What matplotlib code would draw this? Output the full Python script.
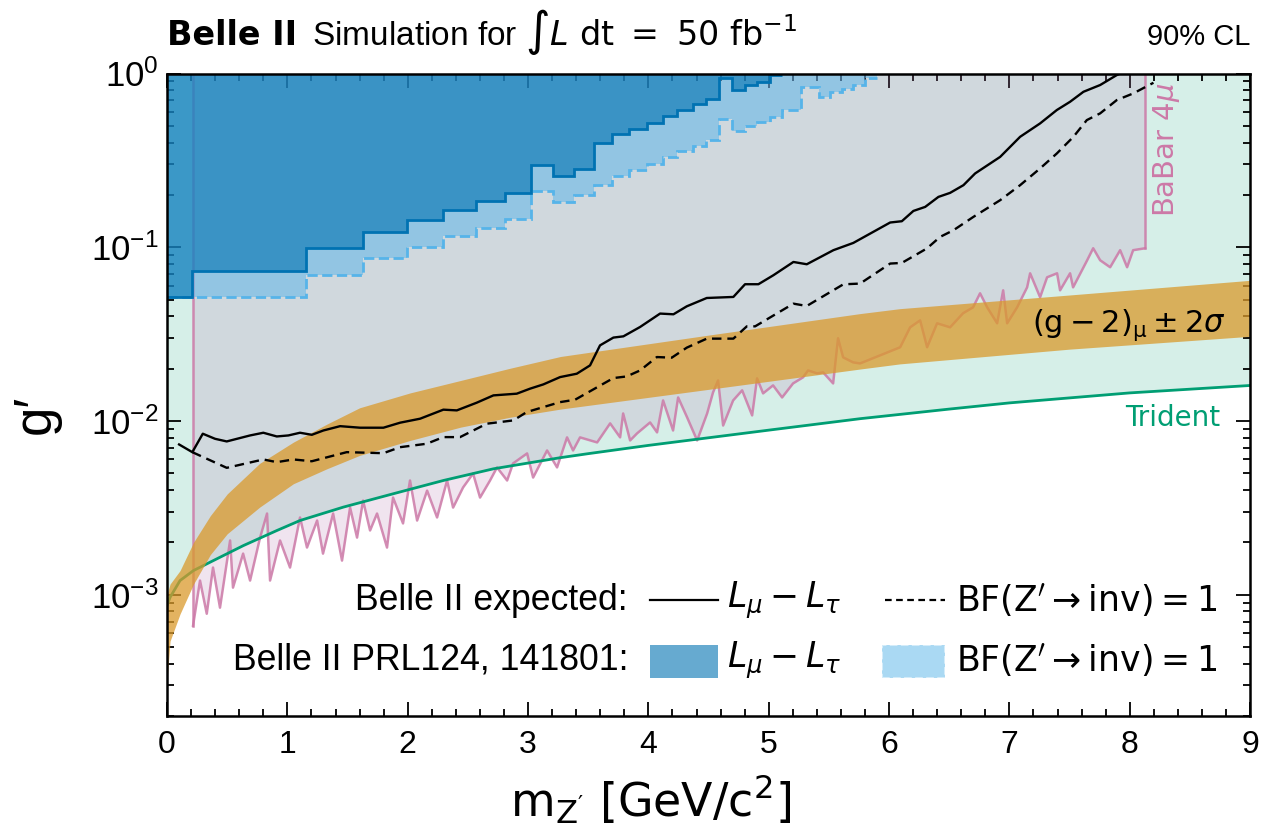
import numpy as np
import matplotlib
matplotlib.use("Agg")
from matplotlib import pyplot as plt
from matplotlib.patches import Rectangle

plt.rcParams['font.family'] = ['Liberation Sans', 'DejaVu Sans']
plt.rcParams['mathtext.fontset'] = 'dejavusans'

# Belle II PRL124 141801 observed limits (step functions), L_mu - L_tau
dark_edges = [0, 0.208, 1.153, 1.629, 1.992, 2.291, 2.565, 2.809, 3.022, 3.205, 3.382, 3.548, 3.698,
              3.839, 3.989, 4.122, 4.238, 4.371, 4.479, 4.587, 4.695, 4.803, 4.903, 5.011, 5.111]
dark_levels = [0.0515, 0.0727, 0.0991, 0.1226, 0.1426, 0.1629, 0.1834, 0.204, 0.296, 0.2556, 0.2826, 0.396,
               0.448, 0.479, 0.516, 0.569, 0.616, 0.670, 0.713, 0.938, 0.803, 0.858, 0.897, 0.98]
# BF(Z' -> inv) = 1
light_edges = [0, 1.153, 1.629, 1.992, 2.291, 2.565, 2.809, 3.022, 3.205, 3.382, 3.548, 3.698, 3.839, 3.989,
               4.122, 4.238, 4.371, 4.479, 4.587, 4.695, 4.803, 4.903, 5.011, 5.111, 5.27, 5.42, 5.51, 5.61,
               5.70, 5.80, 5.90]
light_levels = [0.0515, 0.0696, 0.0868, 0.1004, 0.1162, 0.1299, 0.145, 0.211, 0.181, 0.1995, 0.2277, 0.2567,
                0.278, 0.2996, 0.3289, 0.359, 0.384, 0.414, 0.547, 0.468, 0.500, 0.527, 0.564, 0.616, 0.839,
                0.735, 0.78, 0.814, 0.858, 0.94]

# Belle II expected, 50 fb^-1
exp_x = [0.100, 0.210, 0.297, 0.399, 0.496, 0.690, 0.800, 0.912, 1.008, 1.105, 1.203, 1.299, 1.438, 1.604,
         1.798, 1.937, 2.103, 2.296, 2.408, 2.574, 2.712, 2.906, 3.017, 3.127, 3.266, 3.405, 3.515, 3.598,
         3.709, 3.792, 3.931, 4.097, 4.208, 4.319, 4.485, 4.706, 4.803, 4.914, 5.039, 5.205, 5.316, 5.537,
         5.703, 6.009, 6.106, 6.202, 6.300, 6.410, 6.507, 6.618, 6.715, 6.923, 7.089, 7.255, 7.394, 7.504,
         7.615, 7.754, 7.892, 7.920]
exp_g = [0.00732, 0.00661, 0.00844, 0.00789, 0.00762, 0.00825, 0.00855, 0.00814, 0.00825, 0.00855, 0.00832,
         0.00881, 0.00933, 0.00914, 0.00914, 0.00977, 0.0103, 0.01161, 0.0115, 0.01274, 0.01403, 0.01435,
         0.01534, 0.01623, 0.01788, 0.0187, 0.02088, 0.02723, 0.03019, 0.03069, 0.03475, 0.0415, 0.04111,
         0.0457, 0.05103, 0.05174, 0.06124, 0.06124, 0.06902, 0.08227, 0.0798, 0.09615, 0.1059, 0.1388,
         0.1412, 0.1618, 0.1707, 0.1949, 0.2056, 0.2277, 0.266, 0.3313, 0.4324, 0.5164, 0.6166, 0.6878,
         0.7852, 0.8589, 0.98, 1.0]
inv_x = [0.210, 0.496, 0.800, 0.912, 1.050, 1.203, 1.493, 1.798, 1.936, 2.158, 2.296, 2.435, 2.657, 2.878,
         2.989, 3.266, 3.391, 3.709, 3.820, 3.931, 4.070, 4.194, 4.319, 4.485, 4.706, 4.818, 4.887, 5.205,
         5.316, 5.620, 5.759, 6.009, 6.106, 6.314, 6.424, 6.535, 6.701, 6.923, 7.089, 7.255, 7.394, 7.532,
         7.643, 7.754, 7.892, 8.030, 8.197]
inv_g = [0.00661, 0.00537, 0.0060, 0.00579, 0.0060, 0.00586, 0.00661, 0.00652, 0.00706, 0.00739, 0.00807,
         0.00807, 0.00964, 0.01007, 0.01125, 0.01283, 0.01325, 0.01765, 0.01804, 0.01953, 0.02332, 0.02313,
         0.02642, 0.02977, 0.02977, 0.03505, 0.03505, 0.04734, 0.0459, 0.06118, 0.06176, 0.08054, 0.08124,
         0.0984, 0.1147, 0.1253, 0.1496, 0.1866, 0.2277, 0.2843, 0.3467, 0.4324, 0.5395, 0.5899, 0.7035,
         0.769, 0.8851]

# Trident (CCFR) limit
tri_x = [0, 0.025, 0.108, 0.219, 0.413, 0.634, 0.912, 1.105, 1.465, 1.881, 2.296, 2.712, 3.266, 3.5,
         4.0, 4.5, 5.0, 5.759, 6.5, 7.0, 8.0, 9.0]
tri_g = [8.65e-4, 9.64e-4, 1.205e-3, 1.375e-3, 1.606e-3, 1.915e-3, 2.338e-3, 2.671e-3, 3.19e-3, 3.81e-3,
         4.54e-3, 5.30e-3, 6.14e-3, 6.48e-3, 7.23e-3, 8.0e-3, 8.85e-3, 0.0103, 0.0117, 0.0127, 0.0145, 0.0160]

# (g-2)_mu +- 2 sigma band
g2_x = [0, 0.025, 0.108, 0.22, 0.36, 0.5, 0.77, 1.05, 1.33, 1.6, 2.02, 2.44, 2.85, 3.27, 4.5, 5.76, 6.09,
        7.5, 9.0]
g2_hi = [1.0e-3, 1.15e-3, 1.375e-3, 2.0e-3, 2.85e-3, 3.8e-3, 5.7e-3, 7.55e-3, 9.6e-3, 0.0119, 0.0145,
         0.0171, 0.0201, 0.0235, 0.0312, 0.0415, 0.0443, 0.0531, 0.0645]
g2_lo = [3.2e-4, 5.4e-4, 7.74e-4, 1.15e-3, 1.7e-3, 2.24e-3, 3.19e-3, 4.35e-3, 5.31e-3, 6.33e-3, 7.72e-3,
         9.21e-3, 0.0105, 0.0117, 0.0152, 0.0199, 0.0213, 0.0259, 0.0307]

# BaBar 4mu limit
babar_x = [0.216, 0.274, 0.330, 0.382, 0.440, 0.524, 0.548, 0.632, 0.690, 0.773, 0.831, 0.856, 0.939, 1.022,
           1.105, 1.163, 1.247, 1.296, 1.380, 1.454, 1.521, 1.579, 1.629, 1.687, 1.745, 1.828, 1.878, 1.961,
           2.019, 2.078, 2.161, 2.244, 2.327, 2.377, 2.460, 2.543, 2.601, 2.684, 2.742, 2.826, 2.875, 2.992,
           3.042, 3.158, 3.241, 3.324, 3.374, 3.432, 3.574, 3.682, 3.765, 3.790, 3.848, 3.906, 4.014, 4.072,
           4.122, 4.205, 4.247, 4.322, 4.405, 4.488, 4.537, 4.579, 4.621, 4.704, 4.779, 4.862, 4.903, 4.953,
           5.036, 5.111, 5.202, 5.285, 5.327, 5.402, 5.452, 5.535, 5.576, 5.618, 5.701, 5.759, 6.092, 6.175,
           6.258, 6.316, 6.399, 6.507, 6.615, 6.698, 6.756, 6.815, 6.898, 6.948, 6.981, 7.064, 7.147, 7.172,
           7.255, 7.313, 7.396, 7.421, 7.504, 7.529, 7.646, 7.696, 7.754, 7.837, 7.920, 7.978, 8.028, 8.128]
babar_g = [6.62e-4, 1.205e-3, 7.76e-4, 1.432e-3, 8.41e-4, 2.05e-3, 1.097e-3, 1.722e-3, 1.205e-3, 2.13e-3,
           2.93e-3, 1.205e-3, 2.05e-3, 1.432e-3, 2.78e-3, 1.866e-3, 2.67e-3, 1.722e-3, 2.93e-3, 1.57e-3,
           3.17e-3, 2.13e-3, 3.48e-3, 2.34e-3, 2.93e-3, 1.866e-3, 3.62e-3, 2.57e-3, 4.54e-3, 2.67e-3,
           3.97e-3, 2.78e-3, 4.54e-3, 3.17e-3, 4.14e-3, 4.98e-3, 3.62e-3, 4.54e-3, 5.40e-3, 4.54e-3,
           5.69e-3, 6.50e-3, 4.72e-3, 6.76e-3, 5.40e-3, 8.04e-3, 6.76e-3, 8.04e-3, 7.52e-3, 9.68e-3,
           8.04e-3, 0.01104, 7.72e-3, 8.48e-3, 9.80e-3, 8.59e-3, 0.01312, 8.81e-3, 0.01365, 0.01047,
           7.72e-3, 0.01104, 0.01459, 0.0171, 9.41e-3, 0.01312, 0.0150, 0.01076, 0.01758, 0.01441,
           0.01602, 0.01365, 0.01644, 0.01782, 0.01953, 0.01878, 0.01903, 0.01644, 0.02992, 0.02323,
           0.02173, 0.02143, 0.02655, 0.03459, 0.03793, 0.02655, 0.03648, 0.03459, 0.04169, 0.04508,
           0.0543, 0.04508, 0.03648, 0.05649, 0.03648, 0.04508, 0.05875, 0.07079, 0.05152, 0.06714,
           0.07079, 0.05649, 0.07079, 0.05875, 0.08414, 0.09866, 0.08414, 0.0767, 0.09616, 0.0767,
           0.09616, 0.09866]

C_TRI = '#009E73'
C_BABAR = '#CC79A7'
C_BABAR_FILL = '#B87CB2'
C_G2 = '#DA9A2C'
C_DARK = '#0072B2'
C_LIGHT = '#56B4E9'

fig = plt.figure(figsize=(12.84, 8.32), dpi=100)
ax = fig.add_axes([0.1301, 0.1394, 0.8435, 0.7722])

ax.fill_between(tri_x, tri_g, 1, color=C_TRI, alpha=0.16, lw=0, zorder=1)
ax.fill_between(babar_x, babar_g, 1, color=C_BABAR_FILL, alpha=0.2, lw=0, zorder=2)
ax.plot(babar_x, babar_g, color=C_BABAR, lw=1.8, alpha=0.85, zorder=3)
ax.plot([babar_x[0], babar_x[0]], [babar_g[0], 1], color=C_BABAR, lw=1.8, alpha=0.85, zorder=3)
ax.plot([babar_x[-1], babar_x[-1]], [babar_g[-1], 1], color=C_BABAR, lw=1.8, alpha=0.85, zorder=3)
ax.plot(tri_x, tri_g, color=C_TRI, lw=2, zorder=3)
ax.fill_between(g2_x, g2_lo, g2_hi, color=C_G2, alpha=0.75, lw=0, zorder=4)

ax.plot(exp_x, exp_g, color='k', lw=1.7, zorder=6)
ax.plot(inv_x, inv_g, color='k', lw=1.7, ls=(0, (4, 2.5)), zorder=6)

ax.stairs(light_levels, light_edges, baseline=1, fill=True, color=C_LIGHT, alpha=0.5, lw=0, zorder=7)
ax.stairs(light_levels, light_edges, baseline=None, color=C_LIGHT, lw=2, ls='--', zorder=8)
ax.stairs(dark_levels, dark_edges, baseline=1, fill=True, color=C_DARK, alpha=0.6, lw=0, zorder=9)
ax.stairs(dark_levels, dark_edges, baseline=None, color=C_DARK, lw=2, zorder=10)

ax.set_yscale('log')
ax.set_xlim(0, 9)
ax.set_ylim(2e-4, 1)
ax.set_xticks(np.arange(0, 10, 1))
ax.set_xticks(np.arange(0, 9.01, 0.2), minor=True)
ax.tick_params(which='both', direction='in', top=True, right=True, width=1.3)
ax.tick_params(axis='x', labelsize=23, pad=10)
ax.tick_params(axis='y', labelsize=25, pad=6)
ax.tick_params(which='major', length=10)
ax.tick_params(which='minor', length=5)
for s in ax.spines.values():
    s.set_linewidth(1.8)
    s.set_zorder(20)

ax.set_xlabel("m$_{\\mathdefault{Z'}}$ [GeV/c$^{\\mathdefault{2}}$]", fontsize=33, family='DejaVu Sans')
ax.xaxis.set_label_coords(0.446, -0.088)
ax.set_ylabel("g′", fontsize=38)
ax.yaxis.set_label_coords(-0.098, 0.47)

ax.text(0.0, 1.044, "Belle II", fontsize=24, family='DejaVu Sans', fontweight='bold',
        transform=ax.transAxes, ha='left', va='baseline')
ax.text(0.134, 1.044, r"Simulation for $\int L\ \mathrm{dt}\ =\ 50\ \mathrm{fb}^{-1}$", fontsize=24,
        transform=ax.transAxes, ha='left', va='baseline')
ax.text(1.0, 1.044, "90% CL", fontsize=21, transform=ax.transAxes, ha='right', va='baseline')

ax.text(0.977, 0.609, r"$(\mathrm{g}-2)_{\mathrm{\mu}}\pm2\sigma$", fontsize=22, family='DejaVu Sans',
        transform=ax.transAxes, ha='right', va='center', zorder=12)
ax.text(0.972, 0.464, "Trident", fontsize=20, family='DejaVu Sans', color=C_TRI,
        transform=ax.transAxes, ha='right', va='center', zorder=12)
ax.text(0.923, 0.881, r"BaBar 4$\mu$", fontsize=21, family='DejaVu Sans', color=C_BABAR, rotation=90,
        transform=ax.transAxes, ha='center', va='center', zorder=12)

# legend, drawn by hand
r1, r2 = 0.1805, 0.0872
ax.text(0.4257, r1, "Belle II expected:", fontsize=25.7, transform=ax.transAxes, ha='right', va='center')
ax.plot([0.446, 0.509], [r1, r1], color='k', lw=1.6, transform=ax.transAxes)
ax.text(0.517, r1, r"$L_\mu - L_\tau$", fontsize=25, transform=ax.transAxes, ha='left', va='center')
ax.plot([0.663, 0.718], [r1, r1], color='k', lw=1.6, ls=(0, (3, 2)), transform=ax.transAxes)
ax.text(0.728, r1, r"$\mathrm{BF}(\mathrm{Z}'\rightarrow\mathrm{inv})=1$", fontsize=25,
        transform=ax.transAxes, ha='left', va='center')
ax.text(0.4257, r2, "Belle II PRL124, 141801:", fontsize=25.7, transform=ax.transAxes, ha='right', va='center')
ax.add_patch(Rectangle((0.446, 0.059), 0.063, 0.0515, transform=ax.transAxes, facecolor=C_DARK,
                       alpha=0.6, lw=0))
ax.text(0.517, r2, r"$L_\mu - L_\tau$", fontsize=25, transform=ax.transAxes, ha='left', va='center')
ax.add_patch(Rectangle((0.660, 0.059), 0.058, 0.0515, transform=ax.transAxes, facecolor=C_LIGHT,
                       alpha=0.5, edgecolor='white', ls='--', lw=1.5))
ax.text(0.728, r2, r"$\mathrm{BF}(\mathrm{Z}'\rightarrow\mathrm{inv})=1$", fontsize=25,
        transform=ax.transAxes, ha='left', va='center')

fig.savefig("out.png", dpi=100)
